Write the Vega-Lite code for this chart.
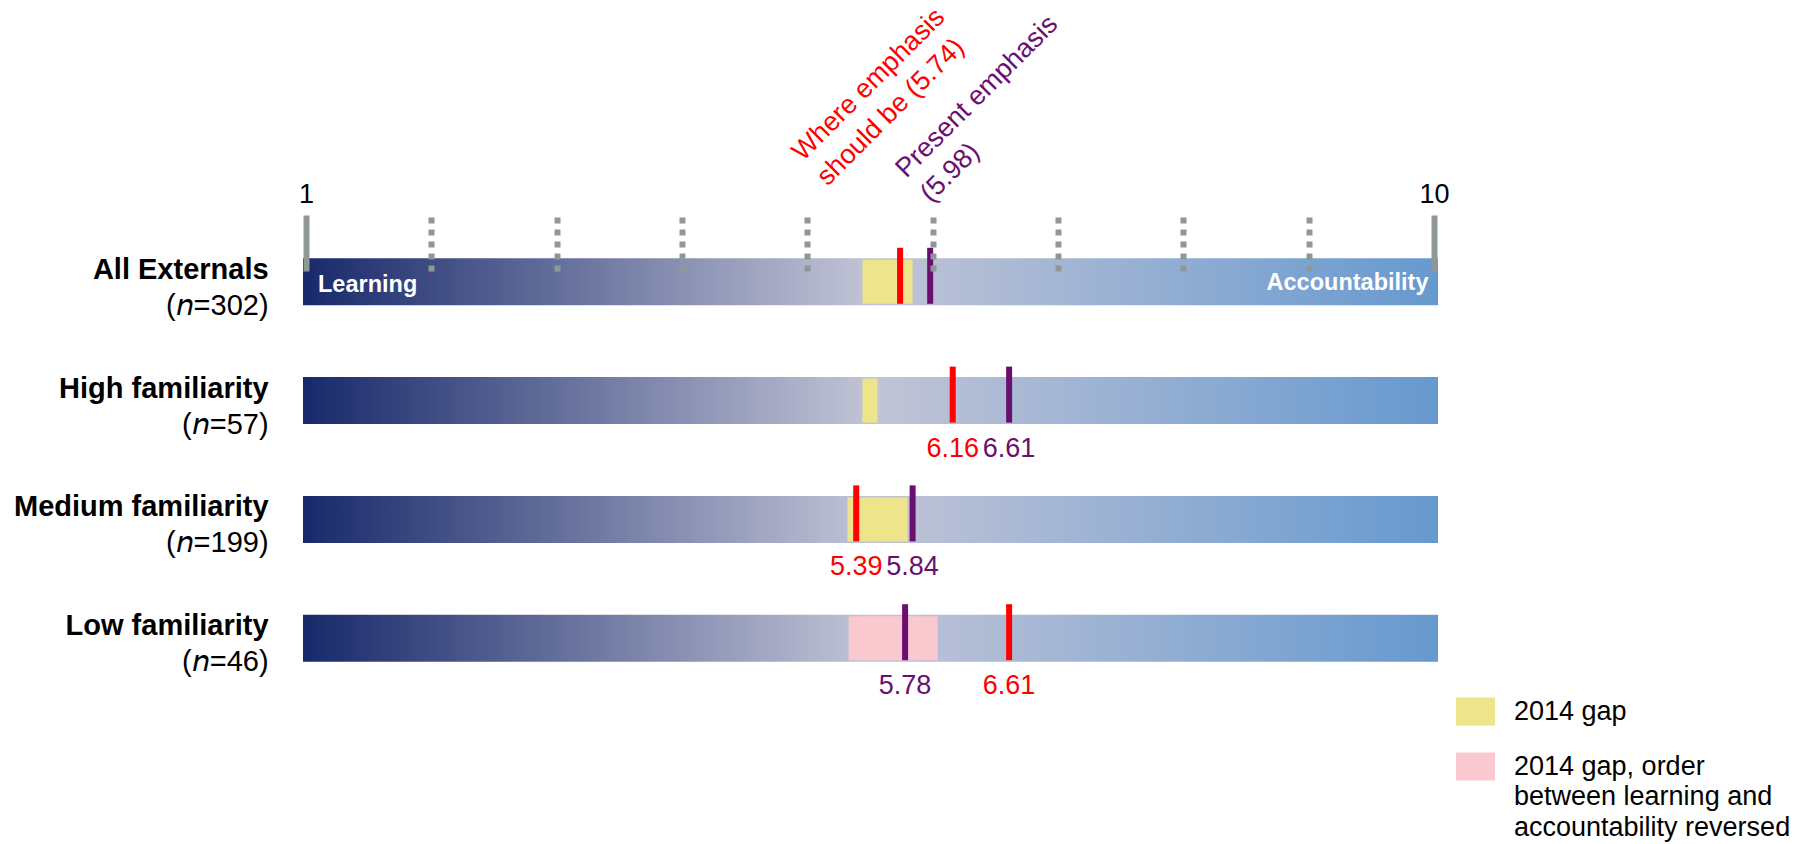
{
  "$schema": "https://vega.github.io/schema/vega-lite/v6.json",
  "width": 1128,
  "height": 475.2,
  "autosize": {"type": "none"},
  "padding": {"left": 306, "top": 222.4, "right": 366, "bottom": 146.4},
  "background": "white",
  "config": {"view": {"stroke": null}, "font": "Liberation Sans", "text": {"font": "Liberation Sans"}},
  "datasets": {
    "rows": [
      {"row": "All Externals", "nLabel": "(𝘯=302)", "from": 1, "to": 10},
      {"row": "High familiarity", "nLabel": "(𝘯=57)", "from": 1, "to": 10},
      {"row": "Medium familiarity", "nLabel": "(𝘯=199)", "from": 1, "to": 10},
      {"row": "Low familiarity", "nLabel": "(𝘯=46)", "from": 1, "to": 10}
    ],
    "poles": [
      {"value": 1, "pole": "Learning"},
      {"value": 10, "pole": "Accountability"}
    ],
    "gaps": [
      {"row": "All Externals", "kind": "2014 gap", "from": 5.44, "to": 5.84},
      {"row": "High familiarity", "kind": "2014 gap", "from": 5.44, "to": 5.56},
      {"row": "Medium familiarity", "kind": "2014 gap", "from": 5.32, "to": 5.8},
      {"row": "Low familiarity", "kind": "2014 gap, order between learning and accountability reversed", "from": 5.33, "to": 6.04}
    ],
    "markers": [
      {"row": "All Externals", "measure": "Where emphasis should be", "value": 5.74},
      {"row": "All Externals", "measure": "Present emphasis", "value": 5.98},
      {"row": "High familiarity", "measure": "Where emphasis should be", "value": 6.16},
      {"row": "High familiarity", "measure": "Present emphasis", "value": 6.61},
      {"row": "Medium familiarity", "measure": "Where emphasis should be", "value": 5.39},
      {"row": "Medium familiarity", "measure": "Present emphasis", "value": 5.84},
      {"row": "Low familiarity", "measure": "Where emphasis should be", "value": 6.61},
      {"row": "Low familiarity", "measure": "Present emphasis", "value": 5.78}
    ],
    "annotations": [
      {"row": "All Externals", "measure": "Where emphasis should be", "value": 5.74, "text": "Where emphasis\nshould be (5.74)"},
      {"row": "All Externals", "measure": "Present emphasis", "value": 5.98, "text": "Present emphasis\n(5.98)"}
    ]
  },
  "layer": [
    {
      "data": {"name": "rows"},
      "mark": {
        "type": "bar", "height": 47, "xOffset": -3, "x2Offset": 4,
        "fill": {"gradient": "linear", "x1": 0, "y1": 0, "x2": 1, "y2": 0,
          "stops": [
            {"offset": 0, "color": "#18296b"},
            {"offset": 0.5, "color": "#c2c4d6"},
            {"offset": 1, "color": "#6699cf"}
          ]}
      },
      "encoding": {
        "x": {
          "field": "from", "type": "quantitative", "title": null,
          "scale": {"domain": [1, 10], "zero": false, "nice": false},
          "axis": {
            "orient": "top", "values": [1, 2, 3, 4, 5, 6, 7, 8, 9, 10], "offset": -48.6, "format": "d",
            "domain": false, "grid": false, "ticks": true, "tickSize": 56, "tickWidth": 6,
            "tickColor": "#8f9797", "tickCap": "butt",
            "tickDash": {"condition": {"test": "datum.value == 1 || datum.value == 10", "value": []}, "value": [6, 6]},
            "labelExpr": "datum.value == 1 || datum.value == 10 ? datum.label : ''",
            "labelFontSize": 27, "labelFont": "Liberation Sans", "labelColor": "#000000",
            "labelPadding": 12.7, "labelBaseline": "alphabetic", "labelFlush": false, "labelOverlap": false,
            "title": null, "zindex": 1
          }
        },
        "x2": {"field": "to"},
        "y": {
          "field": "row", "type": "nominal", "axis": null, "sort": null,
          "scale": {"domain": ["All Externals", "High familiarity", "Medium familiarity", "Low familiarity"], "paddingInner": 0, "paddingOuter": 0}
        }
      }
    },
    {
      "data": {"name": "gaps"},
      "mark": {"type": "bar", "height": 44, "opacity": 1},
      "encoding": {
        "x": {"field": "from", "type": "quantitative", "title": null},
        "x2": {"field": "to"},
        "y": {"field": "row", "type": "nominal", "axis": null},
        "fill": {
          "field": "kind", "type": "nominal",
          "scale": {"domain": ["2014 gap", "2014 gap, order between learning and accountability reversed"], "range": ["#eee48b", "#f9c9cf"]},
          "legend": {
            "orient": "none", "legendX": 1150, "legendY": 469.6, "title": null, "padding": 0,
            "symbolType": "M-1,-0.718H1V0.718H-1Z", "symbolSize": 1521, "symbolStrokeWidth": 0, "symbolOpacity": 1,
            "labelFontSize": 27, "labelFont": "Liberation Sans", "labelColor": "#000000", "labelLimit": 1000,
            "labelOffset": 19, "rowPadding": 21, "labelBaseline": "middle",
            "labelExpr": "length(datum.label) > 20 ? [slice(datum.label, 0, 15), slice(datum.label, 16, 36), slice(datum.label, 37)] : datum.label",
            "encode": {"labels": {"update": {"lineHeight": {"value": 30.5}}}}
          }
        }
      }
    },
    {
      "data": {"name": "markers"},
      "mark": {"type": "tick", "thickness": 6, "size": 56, "yOffset": -6, "opacity": 1, "orient": "vertical"},
      "encoding": {
        "x": {"field": "value", "type": "quantitative", "title": null},
        "y": {"field": "row", "type": "nominal", "axis": null},
        "color": {
          "field": "measure", "type": "nominal", "legend": null,
          "scale": {"domain": ["Where emphasis should be", "Present emphasis"], "range": ["#ff0000", "#6a0f70"]}
        }
      }
    },
    {
      "data": {"name": "rows"},
      "mark": {"type": "text", "align": "right", "baseline": "alphabetic", "dx": -37.4, "dy": -3, "fontSize": 29, "fontWeight": "bold", "color": "#000000"},
      "encoding": {
        "x": {"field": "from", "type": "quantitative", "title": null},
        "y": {"field": "row", "type": "nominal", "axis": null},
        "text": {"field": "row"}
      }
    },
    {
      "data": {"name": "rows"},
      "mark": {"type": "text", "align": "right", "baseline": "alphabetic", "dx": -37.4, "dy": 33, "fontSize": 29, "color": "#000000"},
      "encoding": {
        "x": {"field": "from", "type": "quantitative", "title": null},
        "y": {"field": "row", "type": "nominal", "axis": null},
        "text": {"field": "nLabel"}
      }
    },
    {
      "data": {"name": "poles"},
      "transform": [{"filter": "datum.value == 1"}],
      "mark": {"type": "text", "align": "left", "baseline": "alphabetic", "dx": 12, "dy": 10.5, "fontSize": 23.5, "fontWeight": "bold", "color": "#ffffff"},
      "encoding": {
        "x": {"field": "value", "type": "quantitative", "title": null},
        "y": {"datum": "All Externals", "type": "nominal", "axis": null},
        "text": {"field": "pole"}
      }
    },
    {
      "data": {"name": "poles"},
      "transform": [{"filter": "datum.value == 10"}],
      "mark": {"type": "text", "align": "right", "baseline": "alphabetic", "dx": -5.5, "dy": 8, "fontSize": 23.5, "fontWeight": "bold", "color": "#ffffff"},
      "encoding": {
        "x": {"field": "value", "type": "quantitative", "title": null},
        "y": {"datum": "All Externals", "type": "nominal", "axis": null},
        "text": {"field": "pole"}
      }
    },
    {
      "data": {"name": "markers"},
      "transform": [{"filter": "datum.row != 'All Externals'"}],
      "mark": {"type": "text", "align": "center", "baseline": "alphabetic", "dy": 56, "fontSize": 27},
      "encoding": {
        "x": {"field": "value", "type": "quantitative", "title": null},
        "y": {"field": "row", "type": "nominal", "axis": null},
        "text": {"field": "value", "type": "quantitative", "format": ".2f"},
        "color": {"field": "measure", "type": "nominal", "legend": null}
      }
    },
    {
      "data": {"name": "annotations"},
      "transform": [{"filter": "datum.measure == 'Where emphasis should be'"}],
      "mark": {"type": "text", "align": "left", "baseline": "alphabetic", "angle": 315, "dx": 15.9, "dy": -153.5, "fontSize": 27, "lineBreak": "\n", "lineHeight": 35},
      "encoding": {
        "x": {"field": "value", "type": "quantitative", "title": null},
        "y": {"field": "row", "type": "nominal", "axis": null},
        "text": {"field": "text"},
        "color": {"field": "measure", "type": "nominal", "legend": null}
      }
    },
    {
      "data": {"name": "annotations"},
      "transform": [{"filter": "datum.measure == 'Present emphasis'"}],
      "mark": {"type": "text", "align": "left", "baseline": "alphabetic", "angle": 315, "dx": 56, "dy": -89.9, "fontSize": 27, "lineBreak": "\n", "lineHeight": 35},
      "encoding": {
        "x": {"field": "value", "type": "quantitative", "title": null},
        "y": {"field": "row", "type": "nominal", "axis": null},
        "text": {"field": "text"},
        "color": {"field": "measure", "type": "nominal", "legend": null}
      }
    }
  ]
}
